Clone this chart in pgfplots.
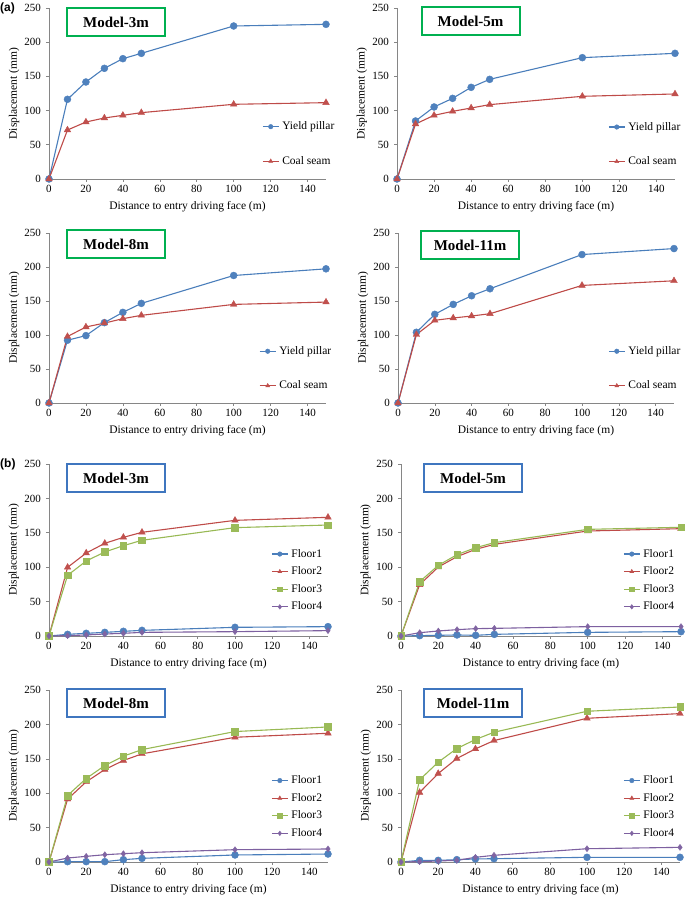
\documentclass[border=0pt]{standalone}
\usepackage{pgfplots}
\pgfplotsset{compat=1.18}
\usepackage{fontspec}
\setmainfont{Liberation Serif}
\newfontfamily\arialfont{Liberation Sans}
\definecolor{cblue}{HTML}{4A7EBB}
\definecolor{cbluem}{HTML}{4F81BD}
\definecolor{cred}{HTML}{BE4B48}
\definecolor{credm}{HTML}{C0504D}
\definecolor{cgreen}{HTML}{98B954}
\definecolor{cgreenm}{HTML}{9BBB59}
\definecolor{cpurp}{HTML}{7D60A0}
\definecolor{cpurpm}{HTML}{8064A2}
\definecolor{axgray}{HTML}{868686}
\definecolor{boxgreen}{HTML}{00B050}
\definecolor{boxblue}{HTML}{3F76BF}
\pgfplotsset{
  panel/.style={
    scale only axis, clip=false,
    xmin=0, xmax=150, ymin=0, ymax=250,
    axis lines*=left,
    axis line style={draw=axgray, line width=0.8pt},
    xtick={0,20,...,140}, ytick={0,50,...,250},
    tick align=outside, major tick length=3pt,
    tick style={draw=axgray, line width=0.6pt},
    tick label style={font=\fontsize{11}{13}\selectfont},
    /pgf/number format/assume math mode=true,
    yticklabel style={anchor=east, inner sep=0pt, xshift=-5pt},
    xticklabel style={anchor=north, inner sep=0pt, yshift=-3pt},
    label style={font=\fontsize{11.5}{13}\selectfont},
    xlabel={Distance to entry driving face (m)},
    ylabel={Displacement (mm)},
    xlabel style={at={(axis description cs:0.5,0)}, anchor=center, yshift=-28pt},
    ylabel style={at={(axis description cs:-0.126,0.5)}, anchor=center},
    legend style={draw=none, fill=none, inner sep=0pt, anchor=west,
      font=\fontsize{11.5}{13}\selectfont,
      nodes={inner sep=0pt, text height=8pt, text depth=2pt},
      column sep=3pt},
    legend cell align=left,
    legend image code/.code={\draw[mark repeat=2, mark phase=2, ##1, mark size=2.3pt] plot coordinates {(0pt,0pt) (8pt,0pt) (16pt,0pt)};},
  },
  ya/.style={legend style={row sep=24.5pt}},
  yb/.style={legend style={row sep=7.6pt}},
  sblue/.style={color=cblue, line width=1.1pt, mark=*, mark size=3.5pt, mark options={fill=cbluem, draw=cbluem, line width=0.4pt}},
  sred/.style={color=cred, line width=1.1pt, mark=triangle*, mark size=3.8pt, mark options={fill=credm, draw=credm, line width=0.4pt}},
  sgreen/.style={color=cgreen, line width=1.1pt, mark=square*, mark size=3.3pt, mark options={fill=cgreenm, draw=cgreenm, line width=0.4pt}},
  spurp/.style={color=cpurp, line width=1.1pt, mark=diamond*, mark size=3pt, mark options={fill=cpurpm, draw=cpurpm, line width=0.4pt}},
}
\tikzset{modelbox/.style={draw=#1, line width=2pt, fill=white, minimum width=98pt, minimum height=28pt, inner sep=0pt, font=\fontsize{15}{17}\selectfont\bfseries}}
\begin{document}
\begin{tikzpicture}[x=1pt,y=1pt]
\useasboundingbox (0,0) rectangle (685,898);
% ---------- (a) Model-3m
\begin{axis}[panel, ya, at={(49pt,719pt)}, anchor=south west, width=277pt, height=171pt,
  legend style={at={(0.769,0.205)}}]
\addplot[sblue] coordinates {(0,0) (10,116.5) (20,141.8) (30,161.8) (40,175.9) (50,183.7) (100,223.7) (150,226.1)};
\addlegendentry{Yield pillar}
\addplot[sred] coordinates {(0,0) (10,71.6) (20,83.3) (30,89.2) (40,93.1) (50,97.0) (100,109.2) (150,111.6)};
\addlegendentry{Coal seam}
\end{axis}
% ---------- (a) Model-5m
\begin{axis}[panel, ya, at={(397pt,719pt)}, anchor=south west, width=278pt, height=171pt,
  legend style={at={(0.759,0.203)}}]
\addplot[sblue] coordinates {(0,0) (10,84.8) (20,105.3) (30,117.9) (40,134.0) (50,145.7) (100,177.4) (150,183.7)};
\addlegendentry{Yield pillar}
\addplot[sred] coordinates {(0,0) (10,80.4) (20,93.1) (30,98.9) (40,103.8) (50,108.7) (100,120.9) (150,124.3)};
\addlegendentry{Coal seam}
\end{axis}
% ---------- (a) Model-8m
\begin{axis}[panel, ya, at={(49pt,495pt)}, anchor=south west, width=277pt, height=170pt,
  legend style={at={(0.758,0.203)}}]
\addplot[sblue] coordinates {(0,0) (10,92.3) (20,99.1) (30,118.2) (40,133.3) (50,146.5) (100,187.5) (150,197.3)};
\addlegendentry{Yield pillar}
\addplot[sred] coordinates {(0,0) (10,97.7) (20,111.8) (30,117.5) (40,124.0) (50,128.9) (100,145.0) (150,148.4)};
\addlegendentry{Coal seam}
\end{axis}
% ---------- (a) Model-11m
\begin{axis}[panel, ya, at={(398pt,495pt)}, anchor=south west, width=276pt, height=170pt,
  legend style={at={(0.761,0.203)}}]
\addplot[sblue] coordinates {(0,0) (10,104.0) (20,130.4) (30,145.0) (40,157.7) (50,168.0) (100,218.3) (150,227.1)};
\addlegendentry{Yield pillar}
\addplot[sred] coordinates {(0,0) (10,100.6) (20,121.6) (30,125.0) (40,127.9) (50,131.3) (100,172.9) (150,179.7)};
\addlegendentry{Coal seam}
\end{axis}
% ---------- (b) Model-3m
\begin{axis}[panel, yb, at={(49pt,262pt)}, anchor=south west, width=279pt, height=172pt,
  legend style={at={(0.796,0.323)}}]
\addplot[sblue] coordinates {(0,0) (10,2.4) (20,3.9) (30,5.3) (40,6.8) (50,8.2) (100,12.6) (150,13.6)};
\addlegendentry{Floor1}
\addplot[sred] coordinates {(0,0) (10,99.8) (20,120.6) (30,134.7) (40,143.4) (50,150.7) (100,168.1) (150,172.5)};
\addlegendentry{Floor2}
\addplot[sgreen] coordinates {(0,0) (10,88.2) (20,109.0) (30,122.1) (40,131.3) (50,139.1) (100,157.5) (150,161.3)};
\addlegendentry{Floor3}
\addplot[spurp] coordinates {(0,0) (10,0.5) (20,1.5) (30,2.9) (40,3.9) (50,5.3) (100,6.3) (150,7.8)};
\addlegendentry{Floor4}
\end{axis}
% ---------- (b) Model-5m
\begin{axis}[panel, yb, at={(401pt,262pt)}, anchor=south west, width=280pt, height=172pt,
  legend style={at={(0.793,0.323)}}]
\addplot[sblue] coordinates {(0,0) (10,0.5) (20,1.0) (30,1.5) (40,1.0) (50,2.4) (100,5.3) (150,6.3)};
\addlegendentry{Floor1}
\addplot[sred] coordinates {(0,0) (10,74.6) (20,100.3) (30,115.3) (40,126.0) (50,133.2) (100,152.6) (150,156.0)};
\addlegendentry{Floor2}
\addplot[sgreen] coordinates {(0,0) (10,79.0) (20,102.7) (30,118.2) (40,128.4) (50,135.7) (100,155.0) (150,158.0)};
\addlegendentry{Floor3}
\addplot[spurp] coordinates {(0,0) (10,4.8) (20,7.3) (30,9.2) (40,10.7) (50,11.1) (100,13.6) (150,13.6)};
\addlegendentry{Floor4}
\end{axis}
% ---------- (b) Model-8m
\begin{axis}[panel, yb, at={(49pt,36pt)}, anchor=south west, width=279pt, height=172pt,
  legend style={at={(0.796,0.320)}}]
\addplot[sblue] coordinates {(0,0) (10,0.5) (20,0.5) (30,0.5) (40,3.4) (50,5.3) (100,10.2) (150,11.6)};
\addlegendentry{Floor1}
\addplot[sred] coordinates {(0,0) (10,91.4) (20,116.5) (30,134.4) (40,147.5) (50,157.2) (100,181.3) (150,187.1)};
\addlegendentry{Floor2}
\addplot[sgreen] coordinates {(0,0) (10,96.7) (20,121.4) (30,140.2) (40,153.8) (50,163.4) (100,189.6) (150,196.3)};
\addlegendentry{Floor3}
\addplot[spurp] coordinates {(0,0) (10,5.8) (20,8.2) (30,10.6) (40,12.1) (50,13.5) (100,17.9) (150,18.9)};
\addlegendentry{Floor4}
\end{axis}
% ---------- (b) Model-11m
\begin{axis}[panel, yb, at={(401pt,36pt)}, anchor=south west, width=279pt, height=172pt,
  legend style={at={(0.796,0.320)}}]
\addplot[sblue] coordinates {(0,0) (10,2.4) (20,2.4) (30,3.4) (40,4.4) (50,4.8) (100,6.8) (150,6.8)};
\addlegendentry{Floor1}
\addplot[sred] coordinates {(0,0) (10,101.1) (20,128.6) (30,150.4) (40,164.4) (50,176.5) (100,208.9) (150,215.7)};
\addlegendentry{Floor2}
\addplot[sgreen] coordinates {(0,0) (10,119.4) (20,145.1) (30,164.9) (40,178.0) (50,188.6) (100,219.1) (150,225.3)};
\addlegendentry{Floor3}
\addplot[spurp] coordinates {(0,0) (10,0.5) (20,1.5) (30,2.4) (40,6.8) (50,9.7) (100,19.3) (150,21.3)};
\addlegendentry{Floor4}
\end{axis}
% ---------- boxes and panel letters
\node[modelbox=boxgreen] at (116,876) {Model-3m};
\node[modelbox=boxgreen] at (470.5,877) {Model-5m};
\node[modelbox=boxgreen] at (116,654) {Model-8m};
\node[modelbox=boxgreen] at (470,653) {Model-11m};
\node[modelbox=boxblue] at (116,420) {Model-3m};
\node[modelbox=boxblue] at (473,420) {Model-5m};
\node[modelbox=boxblue] at (116,195) {Model-8m};
\node[modelbox=boxblue] at (473,195) {Model-11m};
\node[anchor=west, inner sep=0pt, font=\arialfont\bfseries\fontsize{12}{14}\selectfont] at (0,890) {(a)};
\node[anchor=west, inner sep=0pt, font=\arialfont\bfseries\fontsize{12}{14}\selectfont] at (0,434) {(b)};
\end{tikzpicture}
\end{document}
